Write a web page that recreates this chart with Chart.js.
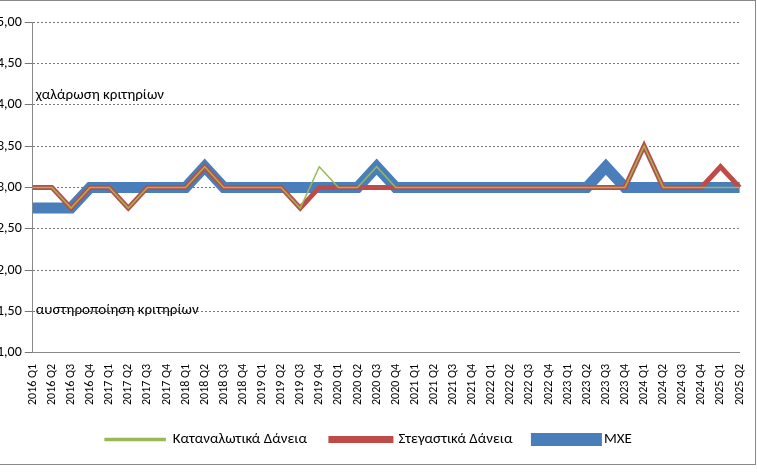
<!DOCTYPE html>
<html><head><meta charset="utf-8">
<script src="https://cdn.jsdelivr.net/npm/chart.js@4"></script>
<style>
body{margin:0;background:#fff;overflow:hidden}
#wrap{position:absolute;left:-6px;top:0;width:763px;height:473px}
#frame{position:absolute;left:0;top:0;width:755px;height:463px;border:1px solid #888;border-left:none;pointer-events:none}
</style></head><body>
<div id="wrap"><canvas id="c"></canvas></div>
<div id="frame"></div>
<script>
const labels = [];
for (let y = 2016; y <= 2025; y++) for (let q = 1; q <= 4; q++) if (!(y === 2025 && q > 2)) labels.push(y + ' Q' + q);

const mxe =   [2.75,2.75,2.75,3,3,3,3,3,3,3.25,3,3,3,3,3,3,3,3,3.25,3,3,3,3,3,3,3,3,3,3,3,3.25,3,3,3,3,3,3,3];
const house = [3,3,2.75,3,3,2.75,3,3,3,3.25,3,3,3,3,2.75,3,3,3,3,3,3,3,3,3,3,3,3,3,3,3,3,3,3.5,3,3,3,3.25,3];
const cons =  [3,3,2.75,3,3,2.75,3,3,3,3.25,3,3,3,3,2.75,3.25,3,3,3.25,3,3,3,3,3,3,3,3,3,3,3,3,3,3.5,3,3,3,3,3];

const FONT = 'Calibri, Carlito, "Liberation Sans", sans-serif';

const notes = {
  id: 'notes',
  afterDatasetsDraw(ch) {
    const c = ch.ctx, y = ch.scales.y, x0 = ch.chartArea.left + 3;
    c.save();
    c.font = '15px ' + FONT;
    c.fillStyle = '#000';
    c.textBaseline = 'middle';
    c.fillText('χαλάρωση κριτηρίων', x0, y.getPixelForValue(4.12));
    c.fillText('αυστηροποίηση κριτηρίων', x0, y.getPixelForValue(1.52));
    c.restore();
  }
};

new Chart(document.getElementById('c'), {
  type: 'line',
  data: { labels, datasets: [
    { label: 'ΜΧΕ', data: mxe, order: 3, borderColor: '#4a7ebb', backgroundColor: '#4a7ebb', borderWidth: 11, pointRadius: 0, tension: 0 },
    { label: 'Στεγαστικά Δάνεια', data: house, order: 2, borderColor: '#be4b48', backgroundColor: '#be4b48', borderWidth: 5, pointRadius: 0, tension: 0 },
    { label: 'Καταναλωτικά Δάνεια', data: cons, order: 1, borderColor: '#98b954', backgroundColor: '#98b954', borderWidth: 1.5, pointRadius: 0, tension: 0 }
  ]},
  options: {
    responsive: true, maintainAspectRatio: false, animation: false,
    layout: { padding: { top: 22, right: 14, bottom: 16 } },
    plugins: {
      legend: { position: 'bottom', labels: { boxWidth: 60, boxHeight: 2, padding: 24, color: '#000',
        font: { size: 15, family: FONT } } },
      tooltip: { enabled: false }
    },
    scales: {
      x: {
        grid: { display: false },
        border: { color: '#888' },
        ticks: { maxRotation: 90, minRotation: 90, autoSkip: false, color: '#000',
          font: { size: 12, family: FONT } }
      },
      y: {
        min: 1, max: 5,
        border: { color: '#888', dash: [2, 2] },
        grid: { color: '#777' },
        ticks: { stepSize: 0.5, color: '#000', font: { size: 14, family: FONT },
          callback: v => v.toFixed(2).replace('.', ',') }
      }
    }
  },
  plugins: [notes]
});
</script></body></html>
